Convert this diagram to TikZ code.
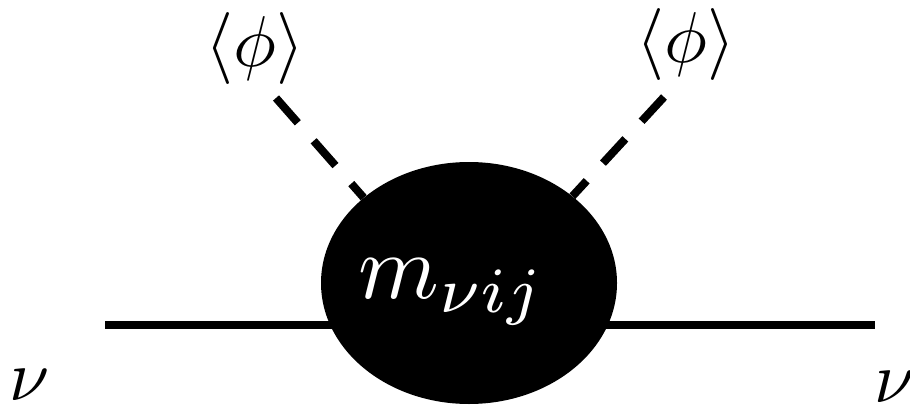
\documentclass[tikz,border=0pt]{standalone}
\usepackage{graphicx}
\usetikzlibrary{shapes.geometric,backgrounds}
\tikzset{
  blobstyle/.style={ellipse, fill=black, draw=none, minimum width=296pt, minimum height=242pt, inner sep=0pt},
  solidline/.style={line width=8pt},
  scalarline/.style={line width=8pt, dash pattern=on 33pt off 24pt},
  biglabel/.style={inner sep=0pt},
}
\newcommand{\bigtxt}[2]{\scalebox{#1}{#2}}
\begin{document}
\begin{tikzpicture}[x=1pt,y=-1pt]
\useasboundingbox (0,0) rectangle (910,409);
\node[blobstyle] (blob) at (469,283) {};
\node[inner sep=0pt, text=white] (mass) at (452,292) {\bigtxt{9.2}{$m_{\nu ij}$}};
\coordinate (lin) at (105,325);
\coordinate (rin) at (875,325);
\node[biglabel] (phiL) at (255,49) {\bigtxt{7.2}{$\langle\phi\rangle$}};
\node[biglabel] (phiR) at (686,45) {\bigtxt{7.2}{$\langle\phi\rangle$}};
\node[biglabel] (nuL) at (30,385) {\bigtxt{7.2}{$\nu$}};
\node[biglabel] (nuR) at (895,387) {\bigtxt{7.2}{$\nu$}};
\coordinate (dL) at (276,98);
\coordinate (dR) at (664,97);
\begin{scope}[on background layer]
  \draw[solidline] (lin) -- (rin);
  \draw[scalarline] (dL) -- (blob.141.5);
  \draw[scalarline] (dR) -- (blob.40);
\end{scope}
\end{tikzpicture}
\end{document}
